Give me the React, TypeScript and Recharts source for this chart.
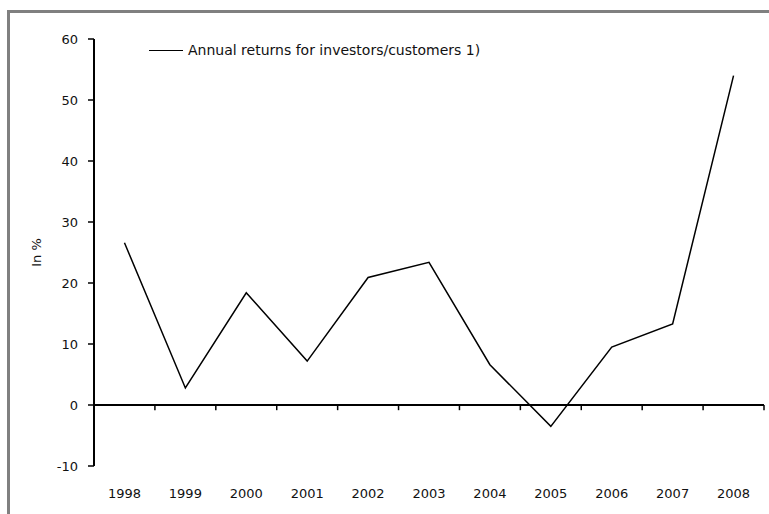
import { LineChart, Line, XAxis, YAxis, ReferenceLine, Legend, Label } from "recharts";

const years = ["1998", "1999", "2000", "2001", "2002", "2003", "2004", "2005", "2006", "2007", "2008"];
const returns = [26.6, 2.8, 18.4, 7.2, 20.9, 23.4, 6.6, -3.5, 9.5, 13.3, 54.0];
const yTicks = [-10, 0, 10, 20, 30, 40, 50, 60];
const seriesName = "Annual returns for investors/customers 1)";

const data = years.map((year, i) => ({ year, value: returns[i] }));

const font = "'DejaVu Sans', 'Liberation Sans', sans-serif";

function LegendBox() {
  return (
    <div style={{ display: "flex", alignItems: "center", fontSize: 14, fontFamily: font, color: "#111", whiteSpace: "nowrap" }}>
      <span style={{ display: "inline-block", width: 34, borderTop: "1.5px solid #000", marginRight: 5 }} />
      <span>{seriesName}</span>
    </div>
  );
}

export default function App() {
  return (
    <div style={{ position: "absolute", left: 0, top: 0, width: 769, height: 514, overflow: "hidden", background: "#fff" }}>
      <div style={{ position: "absolute", left: 7, top: 10, width: 900, height: 700, border: "3px solid #808080" }} />
      <LineChart
        width={769}
        height={514}
        data={data}
        margin={{ top: 39, right: 5, bottom: 18, left: 0 }}
        style={{ fontFamily: font }}
      >
        <XAxis
          dataKey="year"
          scale="band"
          height={30}
          axisLine={false}
          tickLine={false}
          tickMargin={17}
          tick={{ fill: "#111", fontSize: 13 }}
        />
        <YAxis
          width={94}
          domain={[-10, 60]}
          ticks={yTicks}
          interval={0}
          axisLine={{ stroke: "#000", strokeWidth: 2 }}
          tickLine={{ stroke: "#000", strokeWidth: 1.5 }}
          tickSize={6}
          tickMargin={10}
          tick={{ fill: "#111", fontSize: 13 }}
        >
          <Label value="In %" angle={-90} position="insideLeft" offset={36} style={{ textAnchor: "middle", fontSize: 13, fill: "#111" }} />
        </YAxis>
        <ReferenceLine y={0} stroke="#000" strokeWidth={2} />
        {/* small marks at the right edge of every year band on the zero line */}
        {years.map((yr) => (
          <ReferenceLine
            key={yr}
            position="end"
            segment={[{ x: yr, y: 0 }, { x: yr, y: -0.85 }]}
            stroke="#000"
            strokeWidth={1.5}
          />
        ))}
        <Legend
          layout="vertical"
          align="center"
          verticalAlign="middle"
          wrapperStyle={{ left: 149, top: 42, width: "auto" }}
          content={() => <LegendBox />}
        />
        <Line type="linear" dataKey="value" name={seriesName} stroke="#000" strokeWidth={1.5} dot={false} isAnimationActive={false} />
      </LineChart>
    </div>
  );
}
